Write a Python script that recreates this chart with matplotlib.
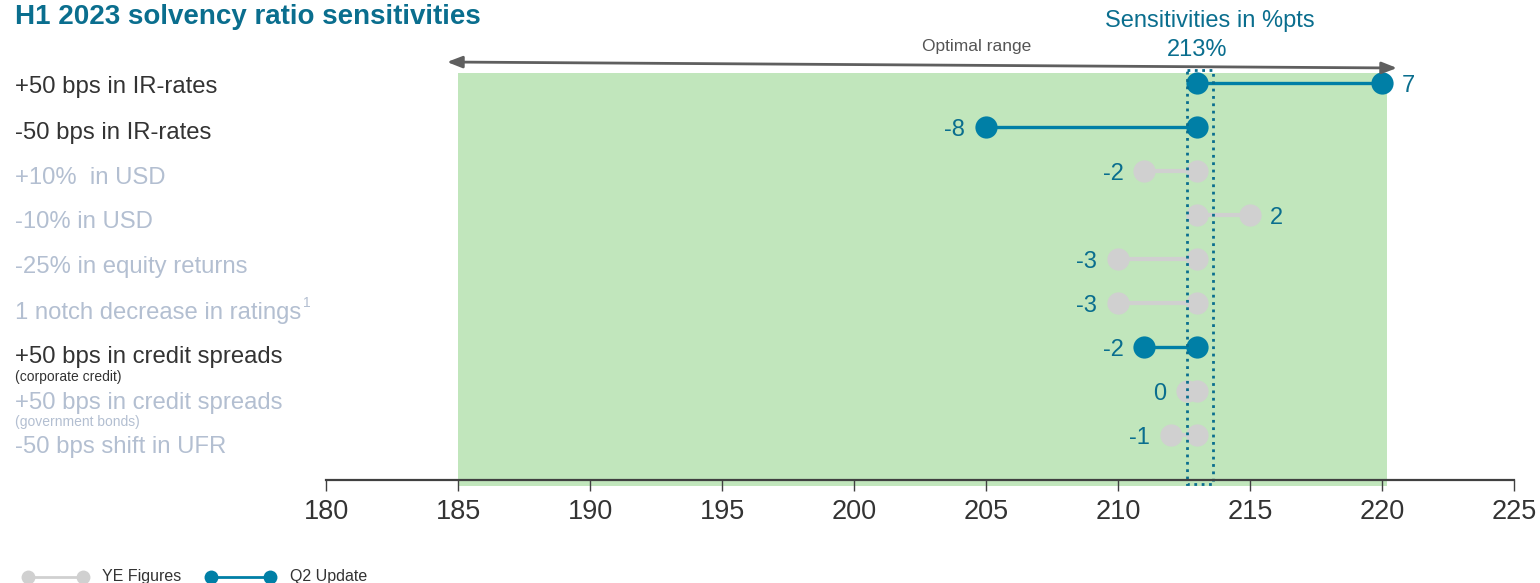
import matplotlib
matplotlib.use('Agg')
import matplotlib.pyplot as plt
from matplotlib.patches import Rectangle
from matplotlib.lines import Line2D

plt.rcParams['font.family'] = ['Liberation Sans', 'DejaVu Sans']

# --- dados ---
categorias = ['+50 bps in IR-rates', '-50 bps in IR-rates', '+10%  in USD',
              '-10% in USD', '-25% in equity returns', '1 notch decrease in ratings',
              '+50 bps in credit spreads', '+50 bps in credit spreads',
              '-50 bps shift in UFR']
sub_rotulos = {6: '(corporate credit)', 7: '(government bonds)'}
sobrescrito = {5: '1'}
base = 213
delta = [7, -8, -2, 2, -3, -3, -2, -0.4, -1]
rotulos_valor = ['7', '-8', '-2', '2', '-3', '-3', '-2', '0', '-1']
serie = ['Q2', 'Q2', 'YE', 'YE', 'YE', 'YE', 'Q2', 'YE', 'YE']
faixa_otima = (185, 220.2)
ticks_x = [180, 185, 190, 195, 200, 205, 210, 215, 220, 225]

AZUL = '#007fa6'
TEAL = '#0a6e8e'
CINZA = '#d0d0d0'
TXT_ESCURO = '#333333'
TXT_CLARO = '#b3bfd1'
VERDE = '#c1e6bc'

W, H = 1540, 583
fig = plt.figure(figsize=(W / 100, H / 100), dpi=100)
ax = fig.add_axes([326 / W, 1 - 480 / H, (1514 - 326) / W, 440 / H])
ax.set_xlim(180, 225)
ax.set_ylim(9.02, -0.98)

# faixa verde
ax.add_patch(Rectangle((faixa_otima[0], -0.227), faixa_otima[1] - faixa_otima[0], 9.16 + 0.227,
                       facecolor=VERDE, edgecolor='none', zorder=0, clip_on=False))

# halteres
for i, d in enumerate(delta):
    cor = AZUL if serie[i] == 'Q2' else CINZA
    lw = 2.4 if serie[i] == 'Q2' else 3.0
    ax.plot([base, base + d], [i, i], color=cor, lw=lw, zorder=2, solid_capstyle='butt')
    ax.plot([base + d, base], [i, i], 'o', color=cor, ms=16, mec='none', zorder=3)
    if d >= 0 and rotulos_valor[i] != '0':
        ax.annotate(rotulos_valor[i], (base + d, i), xytext=(14, 0), textcoords='offset points',
                    ha='left', va='center_baseline', fontsize=17, color=TEAL)
    else:
        ax.annotate(rotulos_valor[i], (base + d, i), xytext=(-15, 0), textcoords='offset points',
                    ha='right', va='center_baseline', fontsize=17, color=TEAL)

# caixa pontilhada em 213%
ax.add_patch(Rectangle((212.6, -0.295), 1.0, 9.11 + 0.295, fill=False, edgecolor=TEAL,
                       lw=2, ls=':', zorder=4, clip_on=False))

# eixo
for s in ['top', 'left', 'right']:
    ax.spines[s].set_visible(False)
ax.spines['bottom'].set_color('#404040')
ax.spines['bottom'].set_linewidth(1.6)
ax.spines['bottom'].set_zorder(5)
ax.set_yticks([])
ax.set_xticks(ticks_x)
ax.tick_params(axis='x', direction='out', length=8, width=1, color='#404040',
               labelsize=19.5, labelcolor=TXT_ESCURO, pad=6)
ax.patch.set_alpha(0)

# rotulos da esquerda
for i, cat in enumerate(categorias):
    cor = TXT_ESCURO if serie[i] == 'Q2' else TXT_CLARO
    y = 1 - (85 + 45 * i) / H
    t = fig.text(15 / W, y, cat, fontsize=17.2, color=cor, va='center_baseline', ha='left')
    if i in sobrescrito:
        fig.canvas.draw()
        bb = t.get_window_extent()
        fig.text((bb.x1 + 2) / W, y + 7 / H, sobrescrito[i], fontsize=10, color=cor,
                 va='center', ha='left')
    if i in sub_rotulos:
        fig.text(15 / W, 1 - (85 + 45 * i + 22) / H, sub_rotulos[i], fontsize=10,
                 color=cor, va='center', ha='left')

# titulo e cabecalhos
fig.text(15 / W, 1 - 14 / H, 'H1 2023 solvency ratio sensitivities', fontsize=20,
         fontweight='bold', color=TEAL, va='center_baseline', ha='left')
fig.text(1210 / W, 1 - 19 / H, 'Sensitivities in %pts', fontsize=17, color=TEAL,
         va='center_baseline', ha='center')
fig.text(1197 / W, 1 - 48 / H, f'{base}%', fontsize=17, color=TEAL,
         va='center_baseline', ha='center')

# seta faixa otima
ax.annotate('', xy=(1397, H - 68), xytext=(447, H - 62), xycoords='figure pixels',
            textcoords='figure pixels',
            arrowprops=dict(arrowstyle='<|-|>,head_length=0.9,head_width=0.35',
                            color='#5f5f5f', lw=2, shrinkA=0, shrinkB=0))
fig.text(977 / W, 1 - 47 / H, 'Optimal range', fontsize=12.5, color='#555555',
         va='center', ha='center')

# legenda
y_leg = 1 - 577 / H
fig.add_artist(Line2D([28 / W, 83 / W], [y_leg, y_leg], color=CINZA, lw=2, marker='o',
                      ms=10, mec='none'))
fig.text(102 / W, y_leg, 'YE Figures', fontsize=11.5, color=TXT_ESCURO, va='center', ha='left')
fig.add_artist(Line2D([211 / W, 270 / W], [y_leg, y_leg], color=AZUL, lw=2, marker='o',
                      ms=10, mec='none'))
fig.text(290 / W, y_leg, 'Q2 Update', fontsize=11.5, color=TXT_ESCURO, va='center', ha='left')

fig.savefig('out.png', dpi=100)
